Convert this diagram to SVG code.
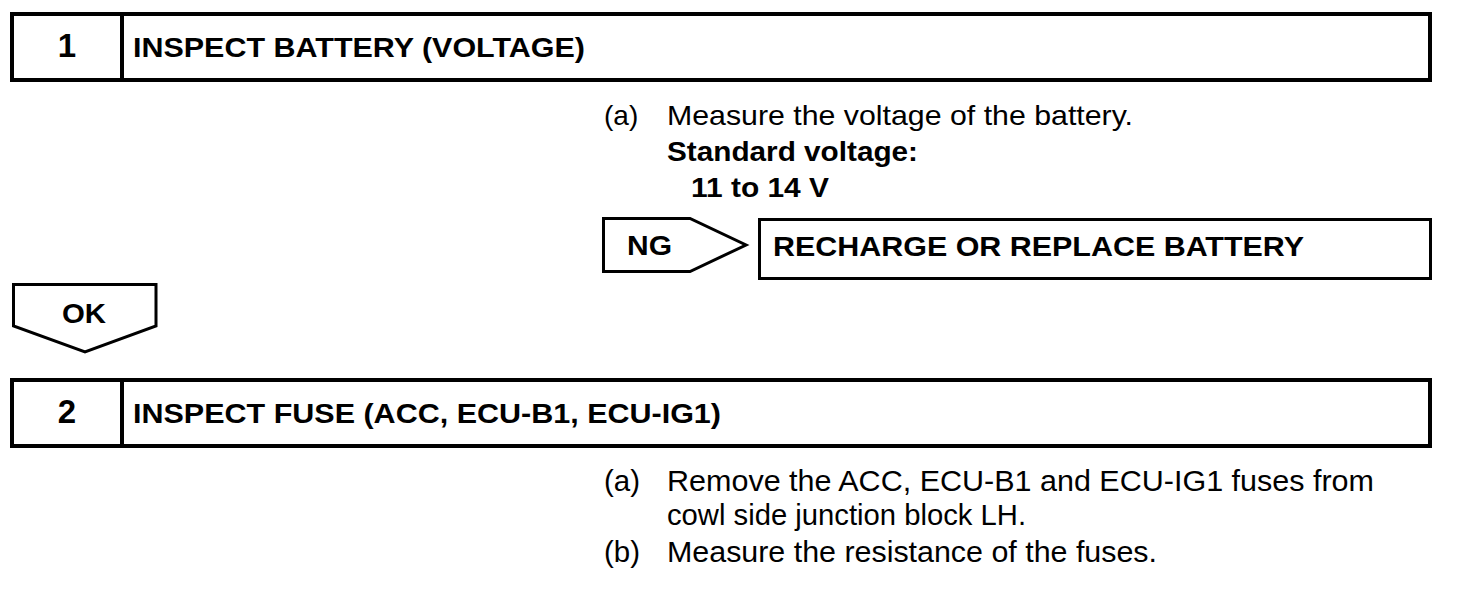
<svg xmlns="http://www.w3.org/2000/svg" width="1472" height="592" viewBox="0 0 1472 592">
<style>
.box{fill:#fff;stroke:#000;stroke-width:4}
.thin{fill:#fff;stroke:#000;stroke-width:3}
.div{stroke:#000;stroke-width:4}
text{font-family:"Liberation Sans",Arial,sans-serif;fill:#000}
.b{font-weight:bold}
.num{font-weight:bold;font-size:33px;text-anchor:middle}
.h{font-weight:bold;font-size:28px}
.t{font-size:28px}
.tc{font-size:30px}
</style>
<rect width="1472" height="592" fill="#fff"/>
<g id="step1">
<rect class="box" x="12" y="14" width="1418" height="66"/>
<line class="div" x1="122" y1="14" x2="122" y2="80"/>
<text class="num" x="67" y="57">1</text>
<text class="h" x="133" y="57" textLength="452" lengthAdjust="spacingAndGlyphs">INSPECT BATTERY (VOLTAGE)</text>
</g>
<g id="step1-text">
<text class="t" x="604" y="125">(a)</text>
<text class="t" x="667" y="125" textLength="466" lengthAdjust="spacingAndGlyphs">Measure the voltage of the battery.</text>
<text class="t b" x="667" y="161" textLength="251" lengthAdjust="spacingAndGlyphs">Standard voltage:</text>
<text class="t b" x="691" y="197" textLength="138" lengthAdjust="spacingAndGlyphs">11 to 14 V</text>
</g>
<g id="ng">
<polygon class="thin" points="603.5,218.5 690,218.5 746,245 690,271.5 603.5,271.5"/>
<text class="h" x="627" y="255" textLength="45" lengthAdjust="spacingAndGlyphs">NG</text>
</g>
<g id="recharge">
<rect class="thin" x="759.5" y="219.5" width="671" height="59"/>
<text class="h" x="773" y="256" textLength="531" lengthAdjust="spacingAndGlyphs">RECHARGE OR REPLACE BATTERY</text>
</g>
<g id="ok">
<polygon class="thin" points="13.5,284.5 156,284.5 156,326 85,352 13.5,326"/>
<text class="h" x="62" y="323" textLength="44" lengthAdjust="spacingAndGlyphs">OK</text>
</g>
<g id="step2">
<rect class="box" x="12" y="380" width="1418" height="66"/>
<line class="div" x1="122" y1="380" x2="122" y2="446"/>
<text class="num" x="67" y="423">2</text>
<text class="h" x="133" y="423" textLength="588" lengthAdjust="spacingAndGlyphs">INSPECT FUSE (ACC, ECU-B1, ECU-IG1)</text>
</g>
<g id="step2-text">
<text class="tc" x="604" y="491" textLength="36" lengthAdjust="spacingAndGlyphs">(a)</text>
<text class="tc" x="667" y="491" textLength="707" lengthAdjust="spacingAndGlyphs">Remove the ACC, ECU-B1 and ECU-IG1 fuses from</text>
<text class="tc" x="667" y="525" textLength="359" lengthAdjust="spacingAndGlyphs">cowl side junction block LH.</text>
<text class="tc" x="604" y="562" textLength="36" lengthAdjust="spacingAndGlyphs">(b)</text>
<text class="tc" x="667" y="562" textLength="490" lengthAdjust="spacingAndGlyphs">Measure the resistance of the fuses.</text>
</g>
<g id="connectors"></g>
</svg>
